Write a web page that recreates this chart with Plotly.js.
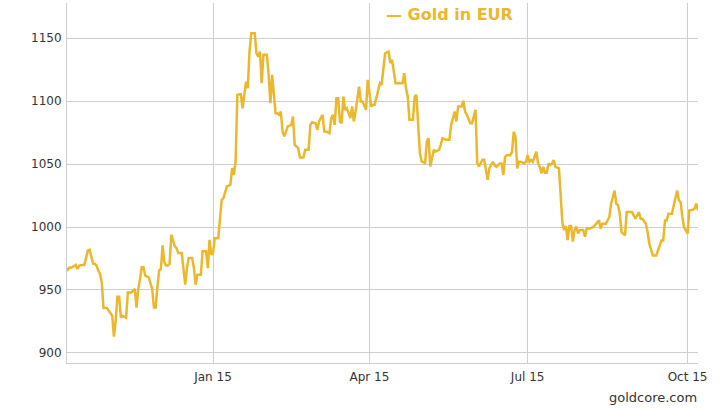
<!DOCTYPE html>
<html>
<head>
<meta charset="utf-8">
<script src="https://cdn.plot.ly/plotly-3.0.1.min.js"></script>
<style>
  html, body { margin: 0; padding: 0; background: #fff; }
  #chart { width: 724px; height: 411px; }
</style>
</head>
<body>
<div id="chart"></div>
<script>
const dates = [
  "2014-10-09","2014-10-10","2014-10-12","2014-10-14","2014-10-15","2014-10-16","2014-10-19","2014-10-20","2014-10-21","2014-10-22",
  "2014-10-23","2014-10-24","2014-10-25","2014-10-26","2014-10-27","2014-10-28","2014-10-29","2014-10-30","2014-11-01","2014-11-02",
  "2014-11-04","2014-11-05","2014-11-06","2014-11-07","2014-11-08","2014-11-09","2014-11-10","2014-11-12","2014-11-13","2014-11-15",
  "2014-11-16","2014-11-17","2014-11-18","2014-11-19","2014-11-20","2014-11-21","2014-11-22","2014-11-23","2014-11-25","2014-11-26",
  "2014-11-27","2014-11-28","2014-11-29","2014-11-30","2014-12-01","2014-12-02","2014-12-03","2014-12-04","2014-12-05","2014-12-06",
  "2014-12-07","2014-12-08","2014-12-10","2014-12-11","2014-12-12","2014-12-14","2014-12-15","2014-12-16","2014-12-17","2014-12-18",
  "2014-12-20","2014-12-21","2014-12-22","2014-12-23","2014-12-25","2014-12-26","2014-12-28","2014-12-29","2014-12-30","2014-12-31",
  "2015-01-01","2015-01-02","2015-01-04","2015-01-06","2015-01-07","2015-01-09","2015-01-11","2015-01-12","2015-01-13","2015-01-14",
  "2015-01-15","2015-01-17","2015-01-18","2015-01-19","2015-01-20","2015-01-21","2015-01-22","2015-01-23","2015-01-25","2015-01-26",
  "2015-01-27","2015-01-28","2015-01-29","2015-01-30","2015-02-01","2015-02-02","2015-02-03","2015-02-04","2015-02-05","2015-02-06",
  "2015-02-07","2015-02-08","2015-02-09","2015-02-10","2015-02-11","2015-02-13","2015-02-15","2015-02-16","2015-02-17","2015-02-19",
  "2015-02-20","2015-02-22","2015-02-23","2015-02-25","2015-02-26","2015-02-27","2015-03-01","2015-03-02","2015-03-03","2015-03-05",
  "2015-03-06","2015-03-07","2015-03-09","2015-03-10","2015-03-11","2015-03-12","2015-03-13","2015-03-14","2015-03-15","2015-03-16",
  "2015-03-17","2015-03-18","2015-03-19","2015-03-21","2015-03-22","2015-03-23","2015-03-24","2015-03-26","2015-03-27","2015-03-28",
  "2015-03-30","2015-03-31","2015-04-02","2015-04-03","2015-04-04","2015-04-06","2015-04-07","2015-04-08","2015-04-10","2015-04-12",
  "2015-04-13","2015-04-14","2015-04-15","2015-04-16","2015-04-17","2015-04-20","2015-04-21","2015-04-22","2015-04-23","2015-04-24",
  "2015-04-26","2015-04-27","2015-04-28","2015-04-29","2015-04-30","2015-05-01","2015-05-03","2015-05-04","2015-05-05","2015-05-06",
  "2015-05-07","2015-05-08","2015-05-09","2015-05-11","2015-05-12","2015-05-13","2015-05-15","2015-05-17","2015-05-18","2015-05-19",
  "2015-05-20","2015-05-21","2015-05-22","2015-05-24","2015-05-25","2015-05-26","2015-05-27","2015-05-29","2015-05-30","2015-06-01",
  "2015-06-02","2015-06-03","2015-06-05","2015-06-06","2015-06-08","2015-06-09","2015-06-11","2015-06-12","2015-06-13","2015-06-15",
  "2015-06-16","2015-06-17","2015-06-18","2015-06-19","2015-06-21","2015-06-22","2015-06-23","2015-06-24","2015-06-25","2015-06-26",
  "2015-06-27","2015-06-29","2015-06-30","2015-07-01","2015-07-02","2015-07-03","2015-07-04","2015-07-06","2015-07-07","2015-07-08",
  "2015-07-09","2015-07-10","2015-07-11","2015-07-12","2015-07-13","2015-07-14","2015-07-15","2015-07-16","2015-07-17","2015-07-19",
  "2015-07-20","2015-07-21","2015-07-22","2015-07-23","2015-07-24","2015-07-25","2015-07-26","2015-07-27","2015-07-28","2015-07-29",
  "2015-07-30","2015-07-31","2015-08-02","2015-08-03","2015-08-04","2015-08-06","2015-08-08","2015-08-10","2015-08-11","2015-08-12",
  "2015-08-13","2015-08-15","2015-08-17","2015-08-18","2015-08-20","2015-08-21","2015-08-22","2015-08-23","2015-08-24","2015-08-26",
  "2015-08-27","2015-08-30","2015-09-01","2015-09-03","2015-09-04","2015-09-05","2015-09-07","2015-09-08","2015-09-09","2015-09-11",
  "2015-09-13","2015-09-14","2015-09-16","2015-09-17","2015-09-18","2015-09-19","2015-09-20","2015-09-22","2015-09-24","2015-09-25",
  "2015-09-26","2015-09-27","2015-09-28","2015-09-29","2015-10-01","2015-10-02","2015-10-04","2015-10-05","2015-10-06","2015-10-07"
];
const goldEUR = [
  965,967.5,968,970,966.7,969.4,970,976,981.4,982,
  976,971,970.7,969.4,965.4,962.8,956,935.6,935.6,933.5,
  929.5,913,925.5,944.7,944.7,928,929.5,928,948,948,
  949.5,950.8,936,950.8,958.8,968,968,961.4,960,954.8,
  950.8,936,936,952,965.4,966.7,985.4,972,969.4,969.4,
  970.7,993.9,984.6,983.3,979.3,979.3,964.8,954.2,967.4,975.4,
  975.4,967.4,954.2,962.1,962.1,980.7,980.7,967.4,989.9,978,
  979.3,991.2,991.2,1021.7,1023,1032.3,1033.6,1046.8,1041.5,1052.1,
  1105,1105.5,1094.4,1107.7,1115.6,1110.3,1139.4,1154,1154,1138,
  1135.4,1139.4,1114.3,1136.8,1136.8,1120.9,1098.4,1120.9,1105,1090.5,
  1090.5,1089.2,1091.8,1075.9,1072,1080,1081.2,1087.8,1065.3,1062.7,
  1055.3,1055.3,1061.4,1061.4,1081.2,1083.3,1082.5,1077.2,1083.9,1089.2,
  1075.9,1075.9,1074.6,1086.5,1089.2,1081.2,1102.4,1102.4,1083.9,1082.5,
  1103.7,1093.1,1094.4,1086.5,1095.8,1083.9,1091.8,1111.6,1099.7,1099.7,
  1093.1,1116.9,1095.8,1097.1,1097.1,1110.3,1114.3,1113,1138.1,1139.4,
  1130.2,1132.8,1123.5,1114.3,1114.3,1114.3,1122.2,1110.3,1103.7,1085.2,
  1085.2,1103.7,1105,1081.2,1058.7,1052.1,1050.8,1068,1070.6,1048.1,
  1054.8,1061.4,1060,1061.4,1065.3,1070.6,1069.3,1069.3,1081.2,1086.5,
  1091.8,1083.9,1095.8,1095.8,1100.3,1091.8,1089.2,1082.5,1082.5,1093.1,
  1050.8,1048.1,1053.4,1053.4,1037.5,1046.8,1051.9,1049.2,1047.9,1050.5,
  1050.5,1041.3,1055.8,1057.1,1057.1,1059.8,1075.7,1071.7,1046.6,1051.9,
  1051.9,1050.5,1051.9,1057.1,1051.9,1053.2,1051.9,1059.8,1050.5,1047.9,
  1042.6,1047.9,1043.1,1043.1,1050.5,1049.2,1050.5,1053.2,1047.9,1046.6,
  1021.4,1002.9,997.6,1000.8,989.7,1000.8,1000.8,988.4,997.6,1000.3,
  995,997.6,997.6,992.3,998.9,998.9,1000.3,1004,1005.3,998.7,
  1002.7,1002.7,1008,1018.6,1029,1018.6,1017.2,1010.6,996,993.4,
  1011.9,1011.9,1006.6,1011.9,1006.6,1006.6,1002.7,996,986.7,977.5,
  977.5,981.4,989.4,989.4,1005.3,1005.3,1010.6,1010.6,1022.5,1029,
  1021.2,1019.9,1008,1000,994.7,1013.3,1013.8,1014.6,1018.6,1013.3
];
const xTickVals = ["2015-01-01","2015-04-01","2015-07-01","2015-10-01"];
const xTickText = ["Jan 15","Apr 15","Jul 15","Oct 15"];
const yTickVals = [900,950,1000,1050,1100,1150];
const seriesName = "Gold in EUR";
const sourceText = "goldcore.com";

const gold = "#EBB72C";
const fontFam = "DejaVu Sans, Verdana, sans-serif";

const trace = {
  x: dates, y: goldEUR, type: "scatter", mode: "lines", name: seriesName,
  line: { color: gold, width: 2.5 }, hoverinfo: "skip", showlegend: false
};

const layout = {
  width: 724, height: 411,
  margin: { l: 67, r: 26, t: 3, b: 48 },
  paper_bgcolor: "#fff", plot_bgcolor: "#fff",
  font: { family: fontFam, size: 12, color: "#333" },
  xaxis: {
    type: "date", range: ["2014-10-09", "2015-10-07"],
    tickmode: "array", tickvals: xTickVals, ticktext: xTickText,
    showgrid: true, gridcolor: "#cfcfcf", gridwidth: 1,
    showline: true, linecolor: "#cfcfcf", linewidth: 1,
    ticks: "", zeroline: false, fixedrange: true,
    tickfont: { family: fontFam, size: 12, color: "#333" },
    ticklabelstandoff: 3
  },
  yaxis: {
    range: [892, 1178],
    tickmode: "array", tickvals: yTickVals,
    showgrid: true, gridcolor: "#cfcfcf", gridwidth: 1,
    showline: true, linecolor: "#cfcfcf", linewidth: 1,
    ticks: "", zeroline: false, fixedrange: true,
    tickfont: { family: fontFam, size: 12, color: "#333" },
    ticklabelstandoff: 2
  },
  annotations: [
    { xref: "paper", yref: "paper", x: 0.5024, y: 0.9667, xanchor: "left", yanchor: "middle",
      text: "<b>— " + seriesName + "</b>", showarrow: false,
      font: { family: fontFam, size: 16, color: gold } },
    { xref: "paper", yref: "paper", x: 1.0016, y: -0.0972, xanchor: "right", yanchor: "middle",
      text: sourceText, showarrow: false,
      font: { family: fontFam, size: 13, color: "#333" } }
  ]
};

Plotly.newPlot("chart", [trace], layout, { displayModeBar: false, staticPlot: true });
</script>
</body>
</html>
